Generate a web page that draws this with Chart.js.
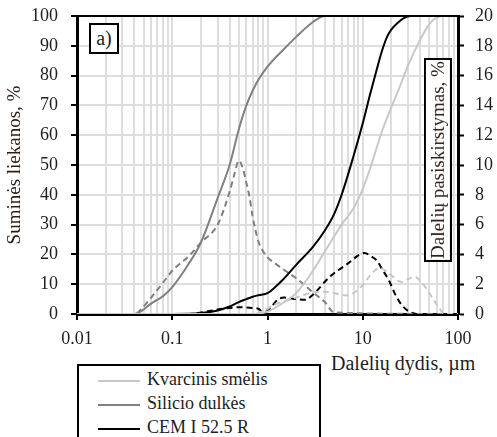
<!DOCTYPE html>
<html>
<head>
<meta charset="utf-8">
<script src="https://cdn.jsdelivr.net/npm/chart.js@4.4.1/dist/chart.umd.min.js"></script>
<style>
  body { margin: 0; width: 497px; height: 437px; overflow: hidden; background: #fff; font-family: "Liberation Serif", "Times New Roman", serif; color: #1e1e1e; position: relative; }
  #wrap { position: absolute; left: 0; top: 0; width: 497px; height: 350px; }
  .box { position: absolute; border: 2px solid #000; background: #fff; box-sizing: border-box; }
  #panel { left: 89px; top: 23px; width: 30px; height: 31px; font-size: 20px; line-height: 26px; text-align: center; }
  #y2title { left: 424px; top: 58px; width: 28px; height: 204px; font-size: 19px; writing-mode: vertical-rl; transform: rotate(180deg); text-align: center; line-height: 24px; color: #2b1d14; }
  #xtitle { position: absolute; left: 331px; top: 352px; font-size: 20px; white-space: nowrap; }
  #legend { left: 77px; top: 364px; width: 244px; height: 120px; font-size: 18px; }
  .row { position: absolute; left: 0; height: 24px; white-space: nowrap; }
  .sample { position: absolute; left: 19px; width: 42px; height: 0; border-top: 2px solid; top: 12px; }
  .lbl { position: absolute; left: 68px; top: 1px; }
</style>
</head>
<body>
<div id="wrap"><canvas id="psd"></canvas></div>
<div class="box" id="panel">a)</div>
<div class="box" id="y2title">Dalelių pasiskirstymas, %</div>
<div id="xtitle">Dalelių dydis, µm</div>
<div class="box" id="legend">
  <div class="row" style="top:2px"><div class="sample" style="border-color:#c8c8c8"></div><div class="lbl">Kvarcinis smėlis</div></div>
  <div class="row" style="top:26px"><div class="sample" style="border-color:#808080"></div><div class="lbl">Silicio dulkės</div></div>
  <div class="row" style="top:50px"><div class="sample" style="border-color:#000"></div><div class="lbl">CEM I 52.5 R</div></div>
</div>
<script>
// particle size, µm
const kvarcSize = [0.01, 0.7, 1, 1.5, 2, 3, 4, 5, 6, 8, 10, 12, 16, 20, 25, 30, 40, 50, 60, 70, 100];
const kvarcCum  = [0, 0, 0.8, 4, 7, 14.5, 21, 26, 30, 35.5, 42, 49, 61.5, 69.5, 77, 83.5, 92, 97.3, 99.5, 100, 100];

const kvarcDistSize = [0.01, 0.7, 1, 1.15, 1.5, 2, 3, 4, 5, 6.7, 8, 10, 12, 15, 19, 24, 26, 30, 35, 43, 55, 65, 72, 100];
const kvarcDist     = [0, 0, 0.35, 0.6, 0.85, 1.1, 1.45, 1.5, 1.4, 1.25, 1.4, 1.95, 2.6, 3.1, 2.7, 2.2, 2.15, 2.35, 2.5, 2.0, 1.0, 0.3, 0, 0];

const silicSize = [0.01, 0.04, 0.05, 0.06, 0.08, 0.1, 0.15, 0.2, 0.3, 0.4, 0.5, 0.6, 0.7, 0.8, 1, 1.5, 2, 3, 4, 100];
const silicCum  = [0, 0, 1.5, 3.5, 6, 9, 17, 24, 39, 50, 62, 70, 75, 78.5, 83, 89, 93, 98, 100, 100];

const silicDistSize = [0.01, 0.04, 0.05, 0.06, 0.08, 0.1, 0.15, 0.2, 0.3, 0.4, 0.45, 0.5, 0.55, 0.6, 0.65, 0.7, 0.8, 0.9, 1, 1.2, 1.5, 2, 3, 4, 5, 100];
const silicDist     = [0, 0, 0.5, 1.1, 2.1, 2.9, 3.9, 4.8, 6.0, 8.2, 9.4, 10.3, 9.8, 8.8, 7.8, 6.5, 4.9, 4.2, 3.8, 3.4, 2.95, 2.4, 1.45, 0.8, 0.1, 0];

const cemSize = [0.01, 0.1, 0.2, 0.3, 0.4, 0.5, 0.6, 0.7, 0.8, 1, 1.2, 1.5, 2, 3, 4, 5, 6, 8, 10, 12, 14, 16, 18, 20, 23, 27, 32, 100];
const cemCum  = [0, 0, 0.3, 1.2, 2.5, 4, 5, 5.8, 6.3, 7, 9, 12, 16.5, 22.5, 28, 33.5, 40, 53, 64, 74, 82, 88.5, 93, 95.5, 97.6, 99.3, 100, 100];

const cemDistSize = [0.01, 0.15, 0.2, 0.3, 0.4, 0.5, 0.7, 0.8, 0.9, 1, 1.1, 1.3, 1.5, 2, 2.5, 3, 4.5, 6.7, 10.5, 12, 14, 16, 19, 22, 25, 30, 37, 100];
const cemDist     = [0, 0, 0.1, 0.3, 0.4, 0.45, 0.4, 0.35, 0.15, 0.2, 0.5, 1.0, 1.1, 1.0, 0.95, 1.3, 2.5, 3.3, 4.1, 3.9, 3.6, 3.0, 2.2, 1.3, 0.7, 0.2, 0, 0];

const xDecades = [0.01, 0.1, 1, 10, 100];
const leftTicks = [0, 10, 20, 30, 40, 50, 60, 70, 80, 90, 100];
const rightTicks = [0, 2, 4, 6, 8, 10, 12, 14, 16, 18, 20];

function pts(xs, ys) { return xs.map((x, i) => ({ x: x, y: ys[i] })); }

function series(label, xs, ys, color, axis, dashed) {
    return {
        label: label,
        data: pts(xs, ys),
        borderColor: color,
        borderWidth: 2,
        borderDash: dashed ? [6, 4] : [],
        pointRadius: 0,
        fill: false,
        cubicInterpolationMode: 'monotone',
        yAxisID: axis
    };
}

const tickFont = { family: 'Liberation Serif', size: 18 };
const isDecade = v => xDecades.some(d => Math.abs(v / d - 1) < 1e-6);

const frame = {
    id: 'frame',
    afterDraw(chart) {
        const a = chart.chartArea, c = chart.ctx;
        c.save();
        c.strokeStyle = '#000';
        c.lineWidth = 2;
        c.beginPath();
        c.moveTo(a.left, a.top);
        c.lineTo(a.right, a.top);
        c.stroke();
        c.restore();
    }
};

new Chart(document.getElementById('psd'), {
    type: 'line',
    data: {
        datasets: [
            series('Kvarcinis smėlis', kvarcSize, kvarcCum, '#c8c8c8', 'y', false),
            series('Silicio dulkės', silicSize, silicCum, '#808080', 'y', false),
            series('CEM I 52.5 R', cemSize, cemCum, '#000000', 'y', false),
            series('Kvarcinis smėlis (pasisk.)', kvarcDistSize, kvarcDist, '#c8c8c8', 'y2', true),
            series('Silicio dulkės (pasisk.)', silicDistSize, silicDist, '#808080', 'y2', true),
            series('CEM I 52.5 R (pasisk.)', cemDistSize, cemDist, '#000000', 'y2', true)
        ]
    },
    options: {
        responsive: true,
        maintainAspectRatio: false,
        animation: false,
        layout: { padding: { top: 16, left: 0, right: 0, bottom: 0 } },
        plugins: { legend: { display: false }, tooltip: { enabled: false } },
        scales: {
            x: {
                type: 'logarithmic',
                min: 0.01,
                max: 100,
                afterBuildTicks: s => {
                    const t = [];
                    xDecades.forEach((d, i) => {
                        if (i === xDecades.length - 1) { t.push({ value: d }); return; }
                        for (let m = 1; m <= 9; m++) t.push({ value: d * m });
                    });
                    s.ticks = t;
                },
                afterFit: s => { s.height = 36; s.paddingLeft = 0; s.paddingRight = 0; },
                ticks: {
                    autoSkip: false,
                    maxRotation: 0,
                    padding: 8,
                    color: '#1e1e1e',
                    font: tickFont,
                    callback: v => isDecade(v) ? String(xDecades.find(d => Math.abs(v / d - 1) < 1e-6)) : ''
                },
                grid: {
                    color: '#dedede',
                    lineWidth: 2,
                    tickLength: 6,
                    tickWidth: 2,
                    tickColor: c => (c.tick && isDecade(c.tick.value)) ? '#000' : 'rgba(0,0,0,0)'
                },
                border: { color: '#000', width: 3 }
            },
            y: {
                position: 'left',
                min: 0,
                max: 100,
                afterBuildTicks: s => { s.ticks = leftTicks.map(v => ({ value: v })); },
                afterFit: s => { s.width = 77; s.paddingTop = 0; s.paddingBottom = 0; },
                ticks: { padding: 13, color: '#1e1e1e', font: tickFont },
                grid: { color: '#dedede', lineWidth: 2, tickLength: 6, tickWidth: 2, tickColor: '#000' },
                border: { color: '#000', width: 3 },
                title: {
                    display: true,
                    text: 'Suminės liekanos, %',
                    color: '#2b1d14',
                    font: { family: 'Liberation Serif', size: 19 },
                    padding: { top: 4, bottom: 4 }
                }
            },
            y2: {
                position: 'right',
                min: 0,
                max: 20,
                afterBuildTicks: s => { s.ticks = rightTicks.map(v => ({ value: v })); },
                afterFit: s => { s.width = 39; s.paddingTop = 0; s.paddingBottom = 0; },
                ticks: { padding: 11, color: '#1e1e1e', font: tickFont },
                grid: { drawOnChartArea: false, tickLength: 6, tickWidth: 2, tickColor: '#000' },
                border: { color: '#000', width: 3 }
            }
        }
    },
    plugins: [frame]
});
</script>
</body>
</html>
